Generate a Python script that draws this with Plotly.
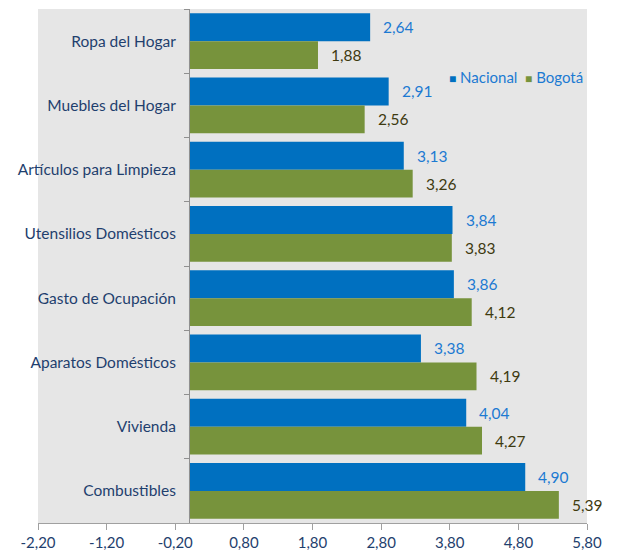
import plotly.graph_objects as go

categories = ["Ropa del Hogar", "Muebles del Hogar", "Artículos para Limpieza",
              "Utensilios Domésticos", "Gasto de Ocupación", "Aparatos Domésticos",
              "Vivienda", "Combustibles"]
nacional = [2.64, 2.91, 3.13, 3.84, 3.86, 3.38, 4.04, 4.90]
bogota = [1.88, 2.56, 3.26, 3.83, 4.12, 4.19, 4.27, 5.39]
tick_vals = [-2.2, -1.2, -0.2, 0.8, 1.8, 2.8, 3.8, 4.8, 5.8]

BLUE = "#0070C0"
GREEN = "#77933C"
NAVY = "#1F3F6E"
BLUE_TXT = "#1C7AD2"
OLIVE_TXT = "#3E3A10"
FONT = "Lato, 'Open Sans', sans-serif"

def fmt(v):
    return f"{v:.2f}".replace(".", ",")

fig = go.Figure()
fig.add_trace(go.Bar(name="Nacional", y=categories, x=nacional, orientation="h",
                     marker=dict(color=BLUE, line=dict(width=0))))
fig.add_trace(go.Bar(name="Bogotá", y=categories, x=bogota, orientation="h",
                     marker=dict(color=GREEN, line=dict(width=0))))

annotations = []
for c, v in zip(categories, nacional):
    annotations.append(dict(x=v, y=c, text=fmt(v), xref="x", yref="y", showarrow=False,
                            xanchor="left", yanchor="middle", xshift=11, yshift=14,
                            font=dict(family=FONT, size=15.5, color=BLUE_TXT)))
for c, v in zip(categories, bogota):
    annotations.append(dict(x=v, y=c, text=fmt(v), xref="x", yref="y", showarrow=False,
                            xanchor="left", yanchor="middle", xshift=11, yshift=-14,
                            font=dict(family=FONT, size=15.5, color=OLIVE_TXT)))

# legend drawn as text: coloured squares followed by series names
legend_text = (f"<span style='color:{BLUE};font-size:12px'>■</span> Nacional  "
               f"<span style='color:{GREEN};font-size:12px'>■</span> Bogotá")
annotations.append(dict(x=1.0, y=0.868, xref="paper", yref="paper", text=legend_text,
                        showarrow=False, xanchor="right", yanchor="middle", xshift=-2,
                        font=dict(family=FONT, size=15, color=BLUE_TXT)))

fig.update_layout(
    width=617, height=554,
    margin=dict(l=38, r=30, t=9, b=31, autoexpand=False),
    paper_bgcolor="white",
    plot_bgcolor="#E6E6E6",
    barmode="group",
    bargap=0.13,
    bargroupgap=0,
    font=dict(family=FONT, size=15, color=NAVY),
    showlegend=False,
    annotations=annotations,
    xaxis=dict(range=[-2.2, 5.8], tickvals=tick_vals, ticktext=[fmt(v) for v in tick_vals],
               automargin=False,
               showgrid=False, zeroline=False, showline=True, linecolor="#A0A0A0", linewidth=1,
               ticks="outside", ticklen=6, tickcolor="#A0A0A0",
               tickfont=dict(family=FONT, size=15, color=NAVY)),
    yaxis=dict(categoryorder="array", categoryarray=categories, autorange="reversed",
               anchor="free", position=0.275, showgrid=False, zeroline=False,
               automargin=False,
               showline=True, linecolor="#909090", linewidth=1,
               ticks="outside", tickson="boundaries", ticklen=5, tickcolor="#909090",
               ticklabelstandoff=10,
               tickfont=dict(family=FONT, size=15.5, color=NAVY)),
)

fig.write_html("out.html", config={"displayModeBar": False},
               post_script="document.body.style.margin='0';")
